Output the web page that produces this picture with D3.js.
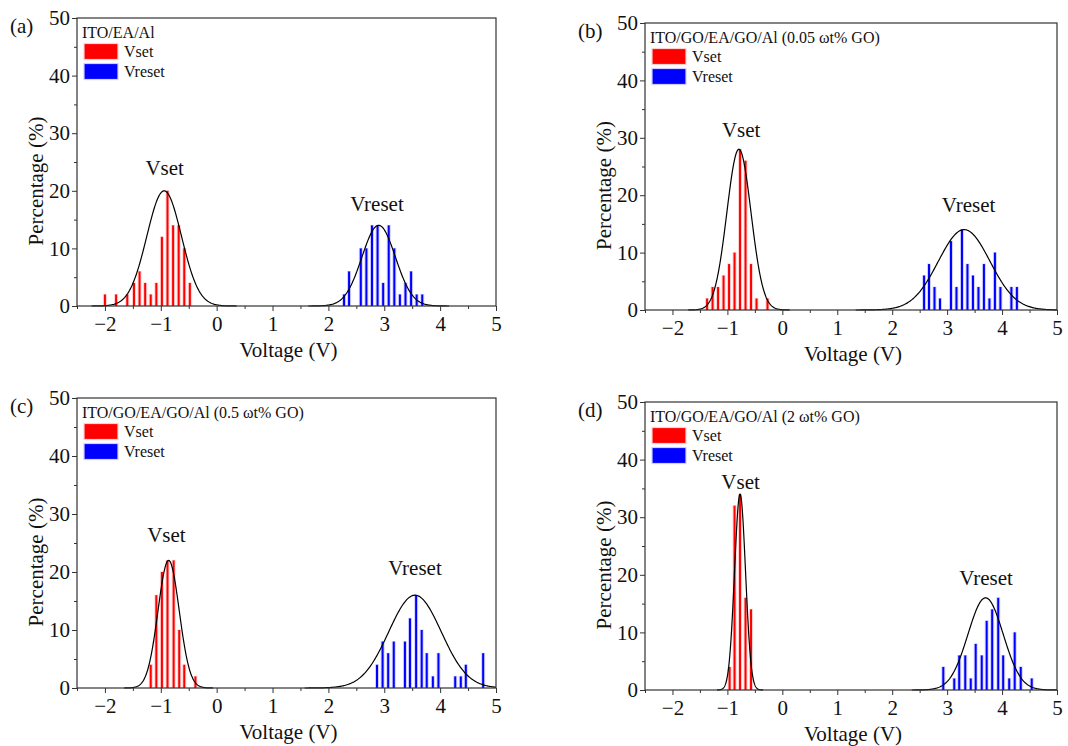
<!DOCTYPE html>
<html>
<head>
<meta charset="utf-8">
<script src="https://cdn.jsdelivr.net/npm/d3@7"></script>
<style>
  body { margin: 0; background: #fff; }
  text { font-family: "Liberation Serif", "Times New Roman", serif; fill: #111; }
</style>
</head>
<body>
<div id="chart"></div>
<script>
// ---- data ----
const panelTags = ["(a)", "(b)", "(c)", "(d)"]
const legendTitles = [
    "ITO/EA/Al",
    "ITO/GO/EA/GO/Al (0.05 ωt% GO)",
    "ITO/GO/EA/GO/Al (0.5 ωt% GO)",
    "ITO/GO/EA/GO/Al (2 ωt% GO)"
]
const seriesNames = ["Vset", "Vreset"]
const xTicks = [-2, -1, 0, 1, 2, 3, 4, 5]
const xMinorTicks = [-2.5, -1.5, -0.5, 0.5, 1.5, 2.5, 3.5, 4.5]
const yTicks = [0, 10, 20, 30, 40, 50]
const yMinorTicks = [5, 15, 25, 35, 45]

// (a) ITO/EA/Al
const setVoltA = [-2.0, -1.8, -1.6, -1.48, -1.38, -1.28, -1.18, -1.08, -0.98, -0.88, -0.78, -0.68, -0.58, -0.48]
const setPctA = [2, 2, 2, 4, 6, 4, 2, 4, 12, 20, 14, 14, 10, 4]
const resetVoltA = [2.28, 2.37, 2.58, 2.68, 2.78, 2.88, 2.98, 3.08, 3.18, 3.28, 3.38, 3.48, 3.58, 3.68]
const resetPctA = [2, 6, 10, 10, 14, 14, 4, 14, 10, 2, 4, 6, 2, 2]

// (b) 0.05 wt% GO
const setVoltB = [-1.37, -1.27, -1.17, -1.07, -0.97, -0.87, -0.77, -0.67, -0.57, -0.47, -0.27]
const setPctB = [2, 4, 4, 6, 8, 10, 28, 26, 8, 2, 2]
const resetVoltB = [2.58, 2.67, 2.77, 2.87, 3.07, 3.17, 3.27, 3.37, 3.47, 3.57, 3.67, 3.77, 3.87, 3.97, 4.17, 4.27]
const resetPctB = [6, 8, 4, 2, 12, 4, 14, 8, 6, 4, 8, 2, 10, 4, 4, 4]

// (c) 0.5 wt% GO
const setVoltC = [-1.18, -1.08, -0.98, -0.88, -0.77, -0.67, -0.58, -0.38]
const setPctC = [4, 16, 20, 22, 22, 10, 4, 2]
const resetVoltC = [2.87, 2.97, 3.07, 3.17, 3.37, 3.46, 3.57, 3.67, 3.76, 3.87, 3.97, 4.27, 4.37, 4.46, 4.77]
const resetPctC = [4, 8, 6, 8, 8, 12, 16, 10, 6, 2, 6, 2, 2, 4, 6]

// (d) 2 wt% GO
const setVoltD = [-0.96, -0.87, -0.77, -0.67, -0.57]
const setPctD = [4, 32, 34, 16, 14]
const resetVoltD = [2.93, 3.13, 3.22, 3.33, 3.43, 3.52, 3.63, 3.72, 3.82, 3.93, 4.02, 4.13, 4.23, 4.34, 4.54]
const resetPctD = [4, 2, 6, 6, 2, 8, 6, 12, 14, 16, 6, 2, 10, 4, 2]

// gaussian fits (mean, sigma, peak height) per panel
const setFitMean = [-0.94, -0.79, -0.86, -0.77]
const setFitSigma = [0.31, 0.22, 0.19, 0.10]
const setFitPeak = [20, 28, 22, 34]
const resetFitMean = [2.90, 3.31, 3.55, 3.70]
const resetFitSigma = [0.30, 0.47, 0.47, 0.32]
const resetFitPeak = [14, 14, 16, 16]

// peak annotations (in data units)
const setLabelV = [-0.93, -0.75, -0.90, -0.76]
const setLabelPct = [23.9, 31.4, 26.4, 36.1]
const resetLabelV = [2.87, 3.39, 3.55, 3.71]
const resetLabelPct = [17.7, 18.3, 20.7, 19.4]

const setVolts = [setVoltA, setVoltB, setVoltC, setVoltD]
const setPcts = [setPctA, setPctB, setPctC, setPctD]
const resetVolts = [resetVoltA, resetVoltB, resetVoltC, resetVoltD]
const resetPcts = [resetPctA, resetPctB, resetPctC, resetPctD]

// ---- layout ----
const W = 1068, H = 746
const boxes = [
    {left: 77, right: 496, top: 18, bottom: 306},
    {left: 645, right: 1057, top: 23, bottom: 310},
    {left: 77, right: 496, top: 398, bottom: 688},
    {left: 645, right: 1057, top: 402, bottom: 690}
]
const colors = {set: "#ff0000", setHalo: "#ffd0d0", reset: "#0000ff", resetHalo: "#d0d0ff"}

const svg = d3.select("#chart").append("svg")
    .attr("width", W)
    .attr("height", H)

const drawPanel = (i) => {
    const b = boxes[i]
    const g = svg.append("g").attr("class", "panel")

    const xScale = d3.scaleLinear().domain([-2.5, 5]).range([b.left, b.right])
    const yScale = d3.scaleLinear().domain([0, 50]).range([b.bottom, b.top])

    // bars: pale halo behind a 2px saturated core
    const drawBars = (volts, pcts, fill, halo) => {
        const data = volts.map((v, k) => ({v: v, p: pcts[k]}))
        const bg = g.append("g")
        bg.selectAll("rect.halo")
            .data(data)
            .join("rect")
            .attr("class", "halo")
            .attr("x", d => xScale(d.v) - 2)
            .attr("width", 4)
            .attr("y", d => yScale(d.p) - 0.5)
            .attr("height", d => yScale(0) - yScale(d.p) + 0.5)
            .attr("fill", halo)
        bg.selectAll("rect.core")
            .data(data)
            .join("rect")
            .attr("class", "core")
            .attr("x", d => xScale(d.v) - 1)
            .attr("width", 2)
            .attr("y", d => yScale(d.p))
            .attr("height", d => yScale(0) - yScale(d.p))
            .attr("fill", fill)
    }
    drawBars(setVolts[i], setPcts[i], colors.set, colors.setHalo)
    drawBars(resetVolts[i], resetPcts[i], colors.reset, colors.resetHalo)

    // fitted curves
    const line = d3.line().x(d => xScale(d[0])).y(d => yScale(d[1]))
    const drawFit = (mu, sigma, peak) => {
        const lo = Math.max(-2.5, mu - 4.2 * sigma), hi = Math.min(5, mu + 4.2 * sigma)
        const pts = d3.range(0, 241).map(k => {
            const v = lo + (hi - lo) * k / 240
            return [v, peak * Math.exp(-0.5 * Math.pow((v - mu) / sigma, 2))]
        })
        g.append("path")
            .attr("d", line(pts))
            .attr("fill", "none")
            .attr("stroke", "#000")
            .attr("stroke-width", 1.2)
    }
    drawFit(setFitMean[i], setFitSigma[i], setFitPeak[i])
    drawFit(resetFitMean[i], resetFitSigma[i], resetFitPeak[i])

    // axes
    g.append("g")
        .attr("transform", `translate(0,${b.bottom})`)
        .call(d3.axisBottom(xScale).tickValues(xTicks).tickSize(5).tickPadding(5).tickFormat(d3.format("d")))
    g.append("g")
        .attr("transform", `translate(0,${b.bottom})`)
        .call(d3.axisBottom(xScale).tickValues(xMinorTicks).tickSize(3).tickFormat(""))
    g.append("g")
        .attr("transform", `translate(${b.left},0)`)
        .call(d3.axisLeft(yScale).tickValues(yTicks).tickSize(5).tickPadding(2))
    g.append("g")
        .attr("transform", `translate(${b.left},0)`)
        .call(d3.axisLeft(yScale).tickValues(yMinorTicks).tickSize(3).tickFormat(""))

    g.selectAll(".domain").remove()
    g.selectAll(".tick line").attr("stroke", "#333")
    g.selectAll(".tick text")
        .style("font-size", "21px")
        .style("font-family", "'Liberation Serif', serif")
        .attr("fill", "#222")

    // frame
    g.append("rect")
        .attr("x", b.left)
        .attr("y", b.top)
        .attr("width", b.right - b.left)
        .attr("height", b.bottom - b.top)
        .attr("fill", "none")
        .attr("stroke", "#333")
        .attr("stroke-width", 1.2)

    // axis titles
    g.append("text")
        .attr("x", (b.left + b.right) / 2 + 2)
        .attr("y", b.bottom + 51)
        .attr("text-anchor", "middle")
        .style("font-size", "21px")
        .text("Voltage (V)")
    g.append("text")
        .attr("transform", `translate(${b.left - 34},${(b.top + b.bottom) / 2 + 19}) rotate(-90)`)
        .attr("text-anchor", "middle")
        .style("font-size", "21px")
        .text("Percentage (%)")

    // panel tag
    g.append("text")
        .attr("x", b.left - 67)
        .attr("y", b.top + 15)
        .style("font-size", "21px")
        .text(panelTags[i])

    // legend
    g.append("text")
        .attr("x", b.left + 5)
        .attr("y", b.top + 20)
        .style("font-size", "16px")
        .text(legendTitles[i])
    const legendColors = [[colors.set, colors.setHalo], [colors.reset, colors.resetHalo]]
    seriesNames.forEach((name, k) => {
        g.append("rect")
            .attr("x", b.left + 7)
            .attr("y", b.top + 25.5 + k * 20)
            .attr("width", 34)
            .attr("height", 16)
            .attr("fill", legendColors[k][0])
            .attr("stroke", legendColors[k][1])
            .attr("stroke-width", 1.2)
        g.append("text")
            .attr("x", b.left + 47)
            .attr("y", b.top + 39 + k * 20)
            .style("font-size", "16px")
            .text(name)
    })

    // peak labels
    g.append("text")
        .attr("x", xScale(setLabelV[i]))
        .attr("y", yScale(setLabelPct[i]))
        .attr("text-anchor", "middle")
        .attr("dominant-baseline", "central")
        .style("font-size", "21px")
        .text(seriesNames[0])
    g.append("text")
        .attr("x", xScale(resetLabelV[i]))
        .attr("y", yScale(resetLabelPct[i]))
        .attr("text-anchor", "middle")
        .attr("dominant-baseline", "central")
        .style("font-size", "21px")
        .text(seriesNames[1])
}

boxes.forEach((b, i) => drawPanel(i))
</script>
</body>
</html>
